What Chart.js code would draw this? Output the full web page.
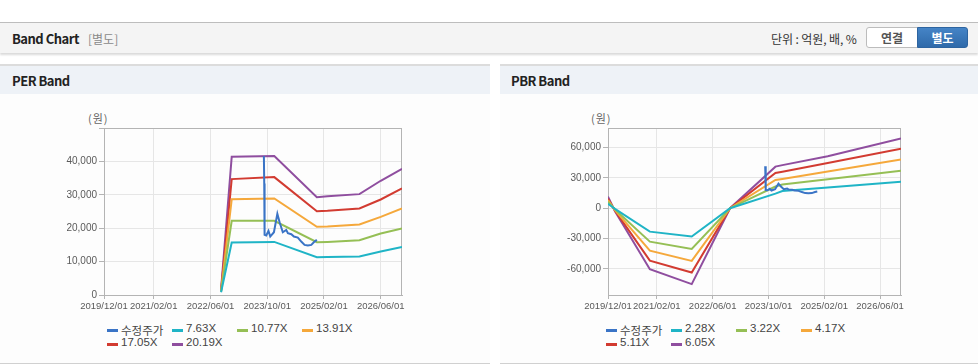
<!DOCTYPE html>
<html>
<head>
<meta charset="utf-8">
<script src="https://cdn.jsdelivr.net/npm/chart.js"></script>
<style>
  body { margin: 0; background: #fff; font-family: "Noto Sans CJK KR", "Liberation Sans", sans-serif; }
  #page { position: relative; width: 978px; height: 364px; overflow: hidden; }
  .abs { position: absolute; }
  #topbar { left: 0; top: 22px; width: 978px; height: 30px; background: #f4f4f4;
            border-top: 1px solid #bdbdbd; box-shadow: 0 2px 2px rgba(0,0,0,0.15); }
  .title { font-weight: bold; font-size: 13px; color: #222; letter-spacing: -0.5px; }
  .sub { font-size: 12px; color: #8a8a8a; }
  .unit { font-size: 12px; color: #333; letter-spacing: -0.1px; }
  .btn { top: 27px; height: 21px; line-height: 20px; text-align: center; font-size: 12px; font-weight: bold;
         box-sizing: border-box; }
  #btn1 { left: 866px; width: 52px; background: #fff; color: #555; border: 1px solid #bcbcbc; border-radius: 3px 0 0 3px; }
  #btn2 { left: 917px; width: 51px; background: linear-gradient(#4584c6, #2f6aaa); color: #fff; border: 1px solid #2d64a0; border-radius: 0 3px 3px 0; }
  .panel { top: 64px; height: 297px; border-top: 2px solid #dcdcdc; border-bottom: 1px solid #d0d0d0; background: #fdfdfd; }
  .phead { left: 0; top: 0; right: 0; height: 28px; background: #eef2f7; }
  .unitlbl { font-size: 11px; color: #666; letter-spacing: 1px; }
  .leg { font-size: 11.5px; color: #444; font-family: "Liberation Sans", "Noto Sans CJK KR", sans-serif; white-space: nowrap; }
  .leg i { position: absolute; left: 0; top: 6px; width: 11px; height: 3px; }
  .leg span { position: absolute; left: 14px; top: -1px; }
</style>
</head>
<body>
<div id="page">
  <div id="topbar" class="abs"></div>
  <div class="abs title" style="left:12px; top:29px;">Band Chart</div>
  <div class="abs sub" style="left:88px; top:30px;">[별도]</div>
  <div class="abs unit" style="left:771px; top:30px;">단위 : 억원, 배, %</div>
  <div id="btn1" class="abs btn">연결</div>
  <div id="btn2" class="abs btn">별도</div>

  <div class="abs panel" style="left:0; width:490px;"><div class="abs phead"></div></div>
  <div class="abs panel" style="left:500px; width:478px;"><div class="abs phead"></div></div>
  <div class="abs title" style="left:12px; top:71px;">PER Band</div>
  <div class="abs title" style="left:511px; top:71px;">PBR Band</div>

  <div class="abs unitlbl" style="left:88px; top:110px;">(원)</div>
  <div class="abs unitlbl" style="left:591px; top:110px;">(원)</div>

  <canvas id="perChart" class="abs" style="left:0; top:93px;" width="490" height="225"></canvas>
  <canvas id="pbrChart" class="abs" style="left:500px; top:93px;" width="478" height="225"></canvas>
  <div id="perLegend"></div>
  <div id="pbrLegend"></div>
</div>

<script>
// x axis
const xTickLabels = ['2019/12/01', '2021/02/01', '2022/06/01', '2023/10/01', '2025/02/01', '2026/06/01'];
const xStart = '2019/12/01';
const xEnd = '2026/12/01';

// adjusted price (shared by both charts)
const priceDates = ['2023-09-03', '2023-09-06', '2023-09-09', '2023-09-23', '2023-10-12', '2023-10-27',
  '2023-11-28', '2023-12-27', '2024-01-16', '2024-02-13', '2024-03-12', '2024-03-26', '2024-04-25',
  '2024-05-17', '2024-06-20', '2024-07-19', '2024-08-17', '2024-09-15', '2024-10-14', '2024-11-11', '2024-12-01'];
const priceValues = [41600, 33400, 18000, 17800, 19200, 17500, 18800, 24300, 21800, 18800, 19500, 18500,
  18200, 17500, 17200, 16000, 15000, 14800, 15000, 16000, 16500];

// PER band
const perLabels = ['수정주가', '7.63X', '10.77X', '13.91X', '17.05X', '20.19X'];
const perDates = ['2022-09-01', '2022-12-01', '2023-12-01', '2024-12-01', '2025-03-01', '2025-12-01', '2026-06-01', '2026-12-01'];
const per763 = [800, 15700, 15900, 11300, 11400, 11500, 13000, 14400];
const per1077 = [1000, 22200, 22200, 15800, 15900, 16400, 18400, 19900];
const per1391 = [1200, 28650, 28900, 20400, 20500, 21100, 23400, 25900];
const per1705 = [1400, 34700, 35300, 25100, 25200, 25900, 28600, 31900];
const per2019 = [1700, 41400, 41600, 29300, 29600, 30200, 34200, 37800];
const perYTicks = [0, 10000, 20000, 30000, 40000, 50000];

// PBR band
const pbrLabels = ['수정주가', '2.28X', '3.22X', '4.17X', '5.11X', '6.05X'];
const pbrDates = ['2019-12-01', '2020-02-01', '2020-12-01', '2021-12-01', '2022-11-01', '2023-12-01', '2024-02-01', '2025-03-01', '2026-12-01'];
const pbr228 = [4500, -600, -23200, -28100, 0, 14500, 17000, 20600, 26300];
const pbr322 = [6500, -1200, -33100, -40300, 0, 21500, 23500, 28700, 37100];
const pbr417 = [8000, -1800, -42000, -52200, 0, 28000, 29000, 36300, 48200];
const pbr511 = [9500, -2400, -51900, -63700, 0, 35000, 36200, 44900, 59000];
const pbr605 = [11500, -3000, -60400, -75200, 0, 41200, 42700, 51500, 69000];
const pbrYTicks = [-60000, -30000, 0, 30000, 60000];

const colors = ['#3a74c6', '#1fb4c6', '#95bf55', '#f5a83b', '#d23b31', '#8f4e9f'];

// months since 2019/12/01
function monthIndex(s) {
  const p = s.split(/[-\/]/).map(Number);
  return (p[0] - 2019) * 12 + (p[1] - 12) + (p[2] - 1) / 30;
}

function points(dates, values) {
  return dates.map((d, i) => ({ x: monthIndex(d), y: values[i] }));
}

const plotBorder = {
  id: 'plotBorder',
  beforeDatasetsDraw(chart) {
    const { ctx, chartArea: a } = chart;
    ctx.save();
    ctx.strokeStyle = '#b4b4b4';
    ctx.lineWidth = 1;
    ctx.strokeRect(Math.round(a.left) + 0.5, Math.round(a.top) + 0.5, Math.round(a.width) - 1, Math.round(a.height));
    ctx.restore();
  }
};

function makeChart(id, labels, bandDates, bands, yTicks, yMin, yMax, yWidth, padRight) {
  const xTicks = xTickLabels.map(monthIndex);
  const datasets = [{ label: labels[0], data: points(priceDates, priceValues) }]
    .concat(bands.map((b, i) => ({ label: labels[i + 1], data: points(bandDates, b) })));
  datasets.forEach((d, i) => {
    d.borderColor = colors[i];
    d.backgroundColor = colors[i];
    d.borderWidth = 2;
    d.pointRadius = 0;
    d.tension = 0;
  });

  new Chart(document.getElementById(id), {
    type: 'line',
    data: { datasets: datasets },
    options: {
      responsive: false,
      animation: false,
      layout: { padding: { top: 35, right: padRight, left: 0, bottom: 0 } },
      plugins: { legend: { display: false }, tooltip: { enabled: false } },
      scales: {
        x: {
          type: 'linear',
          min: monthIndex(xStart),
          max: monthIndex(xEnd),
          afterBuildTicks: s => { s.ticks = xTicks.map(v => ({ value: v })); },
          afterFit: s => { s.height = 23; },
          grid: { color: '#e6e6e6', tickColor: '#b4b4b4', tickLength: 4 },
          border: { color: '#b4b4b4' },
          ticks: {
            autoSkip: false, maxRotation: 0, padding: 2, color: '#5a5a5a',
            font: { family: 'Liberation Sans', size: 9.5 },
            callback: v => xTickLabels[xTicks.indexOf(v)]
          }
        },
        y: {
          min: yMin,
          max: yMax,
          afterBuildTicks: s => { s.ticks = yTicks.map(v => ({ value: v })); },
          afterFit: s => { s.width = yWidth; },
          grid: { color: '#e6e6e6', tickColor: '#b4b4b4', tickLength: 5 },
          border: { color: '#b4b4b4' },
          ticks: {
            padding: 2, color: '#5a5a5a',
            font: { family: 'Liberation Sans', size: 10 },
            callback: v => (v === yMax ? '' : v.toLocaleString('en-US'))
          }
        }
      }
    },
    plugins: [plotBorder]
  });
}

function makeLegend(id, labels, left, top) {
  const box = document.getElementById(id);
  labels.forEach((t, i) => {
    const el = document.createElement('div');
    el.className = 'abs leg';
    el.style.left = (left + (i % 4) * 65) + 'px';
    el.style.top = (top + Math.floor(i / 4) * 13.5) + 'px';
    el.innerHTML = '<i style="background:' + colors[i] + '"></i><span>' + t + '</span>';
    box.appendChild(el);
  });
}

makeChart('perChart', perLabels, perDates, [per763, per1077, per1391, per1705, per2019], perYTicks, 0, 50000, 104, 88);
makeChart('pbrChart', pbrLabels, pbrDates, [pbr228, pbr322, pbr417, pbr511, pbr605], pbrYTicks, -86000, 79500, 108, 77);
makeLegend('perLegend', perLabels, 107, 323);
makeLegend('pbrLegend', pbrLabels, 606, 323);
</script>
</body>
</html>
